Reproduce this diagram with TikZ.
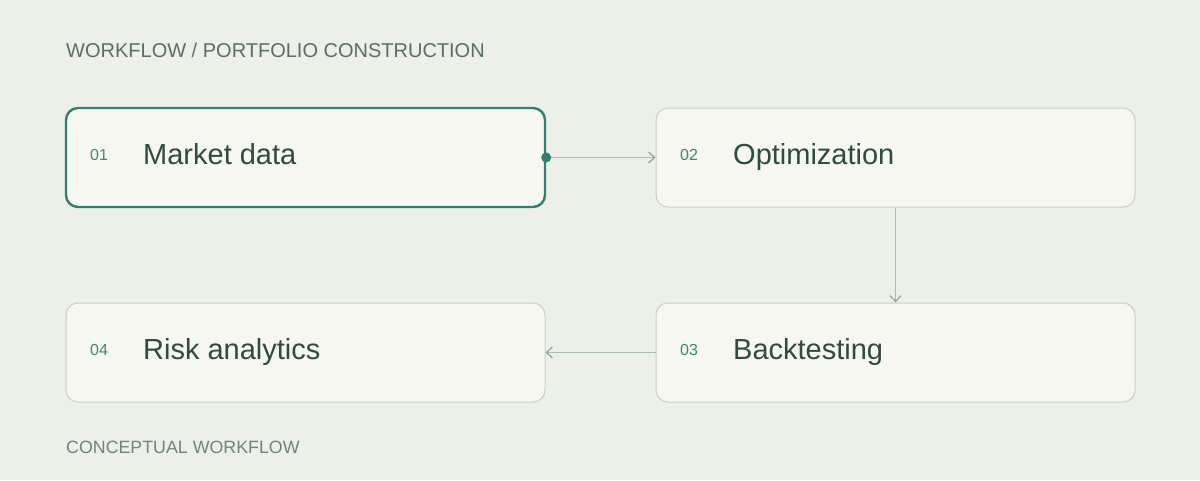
\documentclass[tikz,border=0pt]{standalone}
\usepackage{fontspec}
\setmainfont{Liberation Sans}
\usetikzlibrary{arrows.meta}
\definecolor{bgc}{HTML}{EDEFE9}
\definecolor{boxfill}{HTML}{F7F7F2}
\definecolor{boxline}{HTML}{C7D0C5}
\definecolor{teal}{HTML}{357F70}
\definecolor{numc}{HTML}{3F8676}
\definecolor{lblc}{HTML}{2F4A3F}
\definecolor{headc}{HTML}{5A6F63}
\definecolor{footc}{HTML}{6F8579}
\definecolor{linkc}{HTML}{A9BDB1}
\definecolor{tipc}{HTML}{8AA596}
\tikzset{
  box/.style={rectangle, rounded corners=12pt, draw=boxline, line width=1pt, fill=boxfill,
    minimum width=479pt, minimum height=99pt, inner sep=0pt},
  hot/.style={draw=teal, line width=2.4pt},
  num/.style={anchor=base west, inner sep=0pt, text=numc, font=\fontsize{16}{18}\selectfont},
  lbl/.style={anchor=base west, inner sep=0pt, text=lblc, font=\fontsize{29}{32}\selectfont},
  link/.style={draw=linkc, line width=1.7pt,
    -{Straight Barb[length=6pt,width=11pt,line width=1.2pt,color=tipc]}}
}
\begin{document}
\begin{tikzpicture}[x=1pt,y=-1pt]
\fill[bgc] (0,0) rectangle (1200,480);
\useasboundingbox (0,0) rectangle (1200,480);

\node[anchor=base west, inner sep=0pt, text=headc, font=\fontsize{20}{22}\selectfont] (head) at (66,57) {WORKFLOW / PORTFOLIO CONSTRUCTION};
\node[anchor=base west, inner sep=0pt, text=footc, font=\fontsize{17.8}{20}\selectfont] (foot) at (66,453) {CONCEPTUAL WORKFLOW};

\node[box, hot] (md) at (305.5,157.5) {};
\node[box] (opt) at (895.5,157.5) {};
\node[box] (bt) at (895.5,352.5) {};
\node[box] (risk) at (305.5,352.5) {};

\node[num] (n1) at (90,160) {01};
\node[lbl] (l1) at (143,164) {Market data};
\node[num] (n2) at (680,160) {02};
\node[lbl] (l2) at (733,164) {Optimization};
\node[num] (n3) at (680,355) {03};
\node[lbl] (l3) at (733,359) {Backtesting};
\node[num] (n4) at (90,355) {04};
\node[lbl] (l4) at (143,359) {Risk analytics};

\draw[link] (md.east) -- (opt.west);
\fill[teal] (md.east) circle (5pt);
\draw[link] (opt.south) -- (bt.north);
\draw[link] (bt.west) -- (risk.east);
\end{tikzpicture}
\end{document}
